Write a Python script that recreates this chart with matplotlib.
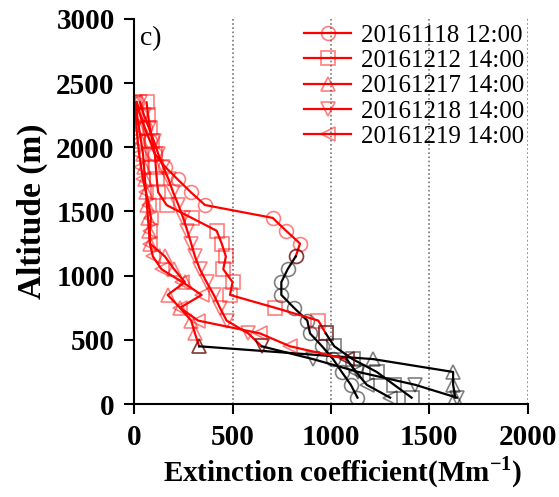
import matplotlib.pyplot as plt

plt.rcParams['font.family'] = ['Liberation Serif', 'DejaVu Serif']
plt.rcParams['mathtext.fontset'] = 'custom'
plt.rcParams['mathtext.rm'] = 'Liberation Serif'
plt.rcParams['mathtext.bf'] = 'Liberation Serif:bold'

# altitude levels (m), shared by all profiles
alt = [2350, 2250, 2150, 2050, 1950, 1850, 1750, 1650, 1550, 1450, 1350, 1250,
       1150, 1050, 950, 850, 750, 650, 550, 450, 350, 250, 150, 50]

labels = ['20161118 12:00', '20161212 14:00', '20161217 14:00',
          '20161218 14:00', '20161219 14:00']
markers = ['o', 's', '^', 'v', '<']

# extinction coefficient (Mm-1)
ext_1118 = [14, 30, 54, 80, 105, 156, 221, 288, 360, 704, 772, 843,
            821, 780, 748, 748, 812, 880, 894, 955, 1011, 1055, 1101, 1135]
ext_1212 = [63, 71, 80, 92, 105, 110, 115, 122, 165, 292, 419, 445,
            466, 453, 500, 487, 716, 936, 974, 1017, 1110, 1233, 1321, 1410]
ext_1217 = [10, 15, 25, 35, 45, 50, 55, 60, 65, 70, 75, 80,
            156, 203, 258, 170, 233, 290, 309, 330, 1215, 1621, 1621, 1632]
ext_1218 = [30, 50, 75, 100, 122, 147, 175, 198, 225, 249, 270, 290,
            309, 334, 368, 405, 436, 470, 580, 648, 909, 1139, 1428, 1640]
ext_1219 = [5, 8, 12, 18, 25, 35, 45, 60, 75, 85, 80, 80,
            95, 139, 245, 343, 233, 325, 640, 792, 1080, 1128, 1182, 1301]

profiles = [ext_1118, ext_1212, ext_1217, ext_1218, ext_1219]
# index of the level where the lower (black) part of each profile starts
split_idx = [12, 18, 19, 19, 20]

fig = plt.figure(figsize=(5.59, 4.97), dpi=100)
ax = fig.add_axes([0.24, 0.187, 0.704, 0.775])

for ext, m, lab, k in zip(profiles, markers, labels, split_idx):
    ax.plot(ext[:k + 1], alt[:k + 1], color='red', lw=1.6, marker=m,
            markersize=10, markerfacecolor='none',
            markeredgecolor=(1, 0, 0, 0.5), markeredgewidth=1.2, label=lab)
    ax.plot(ext[k:], alt[k:], color='black', lw=1.6, marker=m,
            markersize=10, markerfacecolor='none',
            markeredgecolor=(0, 0, 0, 0.5), markeredgewidth=1.2)

ax.set_xlim(0, 2000)
ax.set_ylim(0, 3000)
ax.set_xticks([0, 500, 1000, 1500, 2000])
ax.set_yticks([0, 500, 1000, 1500, 2000, 2500, 3000])
for xv in [500, 1000, 1500, 2000]:
    ax.axvline(xv, color='#777777', ls=(0, (1, 1.5)), lw=1.2, zorder=0)

ax.spines['top'].set_visible(False)
ax.spines['right'].set_visible(False)
ax.spines['left'].set_linewidth(1.5)
ax.spines['bottom'].set_linewidth(1.5)
ax.tick_params(direction='out', length=7, width=1.5, labelsize=21, pad=7)
for t in ax.get_xticklabels() + ax.get_yticklabels():
    t.set_fontweight('bold')

ax.set_xlabel('Extinction coefficient(Mm$^{\\mathbf{-1}}$)', fontsize=21,
              fontweight='bold', labelpad=6)
ax.xaxis.set_label_coords(0.53, -0.13)
ax.set_ylabel('Altitude (m)', fontsize=24, fontweight='bold', labelpad=6)
ax.text(0.015, 0.95, 'c)', transform=ax.transAxes, fontsize=20,
        va='center', ha='left')

ax.legend(loc='upper right', bbox_to_anchor=(1.03, 1.025), frameon=False,
          fontsize=18, handlelength=1.9, handletextpad=0.4,
          labelspacing=0.11, borderaxespad=0.2)

fig.savefig('out.png', dpi=100)
